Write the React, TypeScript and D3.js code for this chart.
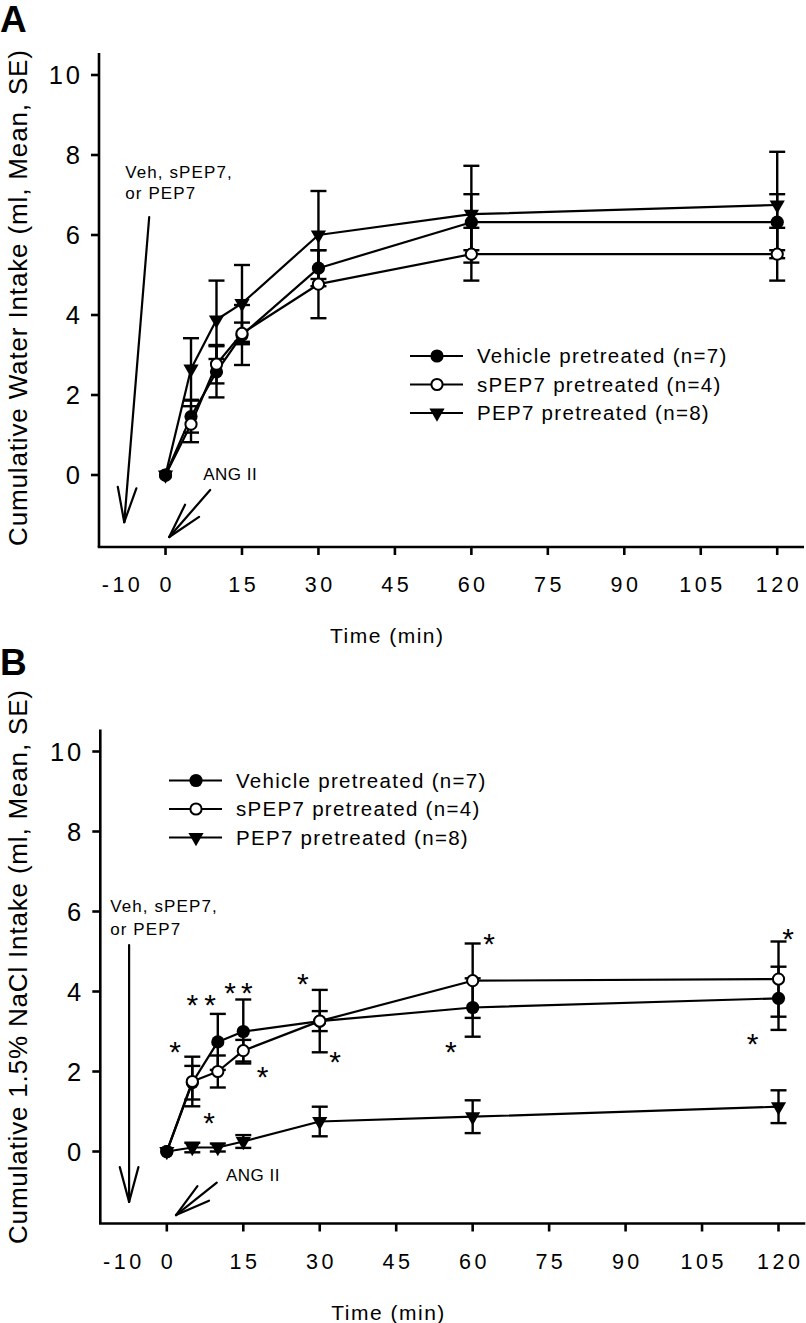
import React from "react";
import * as d3 from "d3";

const FONT = "'Liberation Sans', Arial, Helvetica, sans-serif";

const times = [0, 5, 10, 15, 30, 60, 120];
const xTicks = [0, 15, 30, 45, 60, 75, 90, 105, 120];
const yTicks = [0, 2, 4, 6, 8, 10];
const seriesNames = ["Vehicle pretreated (n=7)", "sPEP7 pretreated (n=4)", "PEP7 pretreated (n=8)"];

// Panel A: cumulative water intake
const waterVehicle = [0, 1.46, 2.58, 3.5, 5.17, 6.32, 6.32];
const waterVehicleSE = [0, 0.4, 0.64, 0.75, 0.45, 0.7, 0.7];
const waterSPEP7 = [0, 1.27, 2.77, 3.54, 4.77, 5.52, 5.52];
const waterSPEP7SE = [0, 0.45, 0.48, 0.27, 0.85, 0.66, 0.66];
const waterPEP7 = [0, 2.65, 3.88, 4.29, 6.0, 6.52, 6.75];
const waterPEP7SE = [0, 0.77, 0.98, 0.96, 1.1, 1.21, 1.33];

// Panel B: cumulative 1.5% NaCl intake
const saltVehicle = [0, 1.72, 2.74, 3.0, 3.26, 3.6, 3.83];
const saltVehicleSE = [0, 0.42, 0.7, 0.8, 0.25, 0.73, 0.79];
const saltSPEP7 = [0, 1.75, 2.0, 2.52, 3.26, 4.27, 4.31];
const saltSPEP7SE = [0, 0.62, 0.4, 0.27, 0.78, 0.93, 0.94];
const saltPEP7 = [0, 0.1, 0.1, 0.25, 0.75, 0.87, 1.12];
const saltPEP7SE = [0, 0.12, 0.1, 0.16, 0.37, 0.41, 0.41];

// significance asterisks in panel B, in data coordinates [time, value]
const starsB: [number, number][] = [
  [1.6, 2.66], [5.0, 3.84], [8.5, 3.84], [12.4, 4.14], [15.7, 4.14],
  [26.7, 4.37], [33.0, 2.41], [18.8, 2.04], [8.3, 0.89],
  [63.2, 5.37], [55.7, 2.66], [121.9, 5.5], [114.9, 2.86],
];

type Marker = "filled" | "open" | "tri";
const markers: Marker[] = ["filled", "open", "tri"];

type Ann = {
  vehText: [number, number, number];
  vehArrow: [number, number, number, number];
  angText: [number, number];
  angArrow: [number, number, number, number];
};

const annA: Ann = {
  vehText: [-7.9, 7.43, 6.9],
  vehArrow: [-3.2, 6.45, -8.1, -1.18],
  angText: [7.4, -0.125],
  angArrow: [8.76, -0.375, 0.73, -1.55],
};
const annB: Ann = {
  vehText: [-11.1, 5.99, 5.41],
  vehArrow: [-7.4, 5.16, -7.4, -1.26],
  angText: [11.6, -0.73],
  angArrow: [9.8, -0.78, 1.8, -1.59],
};

function MarkerShape({ type, cx, cy }: { type: Marker; cx: number; cy: number }) {
  if (type === "filled") return <circle cx={cx} cy={cy} r={6.6} fill="#000" />;
  if (type === "open") return <circle cx={cx} cy={cy} r={5.6} fill="#fff" stroke="#000" strokeWidth={2} />;
  const p = d3.symbol().type(d3.symbolTriangle).size(100)()!;
  return <path d={p} transform={`translate(${cx},${cy}) rotate(180)`} fill="#000" />;
}

function Arrow({ x1, y1, x2, y2 }: { x1: number; y1: number; x2: number; y2: number }) {
  const ang = Math.atan2(y1 - y2, x1 - x2);
  const L = 36;
  const a = (15 * Math.PI) / 180;
  const h1 = [x2 + L * Math.cos(ang - a), y2 + L * Math.sin(ang - a)];
  const h2 = [x2 + L * Math.cos(ang + a), y2 + L * Math.sin(ang + a)];
  return (
    <g stroke="#000" strokeWidth={2.2} fill="none" strokeLinecap="round">
      <line x1={x1} y1={y1} x2={x2} y2={y2} />
      <line x1={h1[0]} y1={h1[1]} x2={x2} y2={y2} />
      <line x1={h2[0]} y1={h2[1]} x2={x2} y2={y2} />
    </g>
  );
}

type PanelProps = {
  letter: string;
  letterY: number;
  xRange: [number, number];
  yRange: [number, number];
  values: number[][];
  ses: number[][];
  title: string;
  titleLength: number;
  titleCenter: number;
  legendX: number;
  legendY: number;
  ann: Ann;
  stars: [number, number][];
};

// draw order of markers: at t=0 vehicle on top; otherwise sPEP7 on top
const orderAtZero = [2, 0, 1];
const orderElse = [0, 2, 1];

function Panel(p: PanelProps) {
  const x = d3.scaleLinear().domain([-13.05, 125]).range(p.xRange);
  const y = d3.scaleLinear().domain([-1.8, 10.55]).range(p.yRange);
  const axisX = p.xRange[0];
  const axisY = p.yRange[0];
  const line = d3
    .line<number>()
    .x((_, i) => x(times[i]))
    .y((d) => y(d));

  const markerItems: { s: number; i: number; key: number }[] = [];
  p.values.forEach((vals, s) =>
    vals.forEach((_, i) => {
      const order = i === 0 ? orderAtZero[s] : orderElse[s];
      markerItems.push({ s, i, key: order * 100 + i });
    })
  );
  markerItems.sort((a, b) => a.key - b.key);

  const ann = p.ann;
  const starSize = 30;

  return (
    <g fontFamily={FONT} fill="#000">
      <text x={0} y={p.letterY} fontSize={37} fontWeight="bold">
        {p.letter}
      </text>
      <text
        transform={`translate(27,${p.titleCenter}) rotate(-90)`}
        textAnchor="middle"
        fontSize={26}
        textLength={p.titleLength}
        lengthAdjust="spacing"
      >
        {p.title}
      </text>
      <g stroke="#000" strokeWidth={2.6} fill="none">
        <line x1={axisX} y1={axisY} x2={axisX} y2={p.yRange[1]} />
        <line x1={axisX} y1={axisY} x2={p.xRange[1]} y2={axisY} strokeLinecap="square" />
        {yTicks.map((t) => (
          <line key={t} x1={axisX - 8} x2={axisX} y1={y(t)} y2={y(t)} />
        ))}
        {xTicks.map((t) => (
          <line key={t} x1={x(t)} x2={x(t)} y1={axisY} y2={axisY + 8} />
        ))}
      </g>
      {yTicks.map((t) => (
        <text key={t} x={axisX - 16} y={y(t) + 9} textAnchor="end" fontSize={25.5} letterSpacing={3}>
          {t}
        </text>
      ))}
      {xTicks.map((t) => (
        <text key={t} x={x(t) + 1.75} y={axisY + 45} textAnchor="middle" fontSize={21.5} letterSpacing={3.5}>
          {t}
        </text>
      ))}
      <text x={x(-10) + 8} y={axisY + 45} textAnchor="middle" fontSize={21.5} letterSpacing={3.5}>
        -10
      </text>
      <text x={x(43.5)} y={axisY + 96} textAnchor="middle" fontSize={21} letterSpacing={1.5}>
        Time (min)
      </text>

      <g fontSize={17} letterSpacing={1.1}>
        <text x={x(ann.vehText[0])} y={y(ann.vehText[1])}>Veh, sPEP7,</text>
        <text x={x(ann.vehText[0])} y={y(ann.vehText[2])}>or PEP7</text>
        <text x={x(ann.angText[0])} y={y(ann.angText[1])} letterSpacing={0.5}>ANG II</text>
      </g>
      <Arrow x1={x(ann.vehArrow[0])} y1={y(ann.vehArrow[1])} x2={x(ann.vehArrow[2])} y2={y(ann.vehArrow[3])} />
      <Arrow x1={x(ann.angArrow[0])} y1={y(ann.angArrow[1])} x2={x(ann.angArrow[2])} y2={y(ann.angArrow[3])} />

      {p.values.map((vals, s) => (
        <path key={s} d={line(vals)!} fill="none" stroke="#000" strokeWidth={2.2} strokeLinejoin="round" />
      ))}
      <g stroke="#000" strokeWidth={2.4}>
        {p.values.map((vals, s) =>
          vals.map((v, i) => {
            const se = p.ses[s][i];
            if (!se) return null;
            const cx = x(times[i]);
            return (
              <g key={`${s}-${i}`}>
                <line x1={cx} x2={cx} y1={y(v - se)} y2={y(v + se)} />
                <line x1={cx - 8} x2={cx + 8} y1={y(v + se)} y2={y(v + se)} />
                <line x1={cx - 8} x2={cx + 8} y1={y(v - se)} y2={y(v - se)} />
              </g>
            );
          })
        )}
      </g>
      {markerItems.map(({ s, i }) => (
        <MarkerShape key={`${s}-${i}`} type={markers[s]} cx={x(times[i])} cy={y(p.values[s][i])} />
      ))}
      {p.stars.map(([t, v], k) => (
        <text key={k} x={x(t)} y={y(v) + starSize * 0.57} textAnchor="middle" fontSize={starSize}>
          *
        </text>
      ))}
      {seriesNames.map((name, k) => {
        const ly = p.legendY + k * 28.5;
        return (
          <g key={name}>
            <line x1={p.legendX} x2={p.legendX + 53} y1={ly} y2={ly} stroke="#000" strokeWidth={2.2} />
            <MarkerShape type={markers[k]} cx={p.legendX + 27} cy={ly} />
            <text x={p.legendX + 67} y={ly + 7.3} fontSize={20.5} letterSpacing={1.3}>
              {name}
            </text>
          </g>
        );
      })}
    </g>
  );
}

export default function App() {
  return (
    <svg width={806} height={1323} style={{ position: "absolute", left: 0, top: 0, background: "#fff" }}>
      <rect width={806} height={1323} fill="#fff" />
      <Panel
        letter="A"
        letterY={32}
        xRange={[99, 802.7]}
        yRange={[547, 53]}
        values={[waterVehicle, waterSPEP7, waterPEP7]}
        ses={[waterVehicleSE, waterSPEP7SE, waterPEP7SE]}
        title="Cumulative Water Intake (ml, Mean, SE)"
        titleLength={496}
        titleCenter={298}
        legendX={410}
        legendY={356}
        ann={annA}
        stars={[]}
      />
      <Panel
        letter="B"
        letterY={675}
        xRange={[100.3, 804]}
        yRange={[1223.5, 729.5]}
        values={[saltVehicle, saltSPEP7, saltPEP7]}
        ses={[saltVehicleSE, saltSPEP7SE, saltPEP7SE]}
        title="Cumulative 1.5% NaCl Intake (ml, Mean, SE)"
        titleLength={554}
        titleCenter={967}
        legendX={169}
        legendY={780.5}
        ann={annB}
        stars={starsB}
      />
    </svg>
  );
}
